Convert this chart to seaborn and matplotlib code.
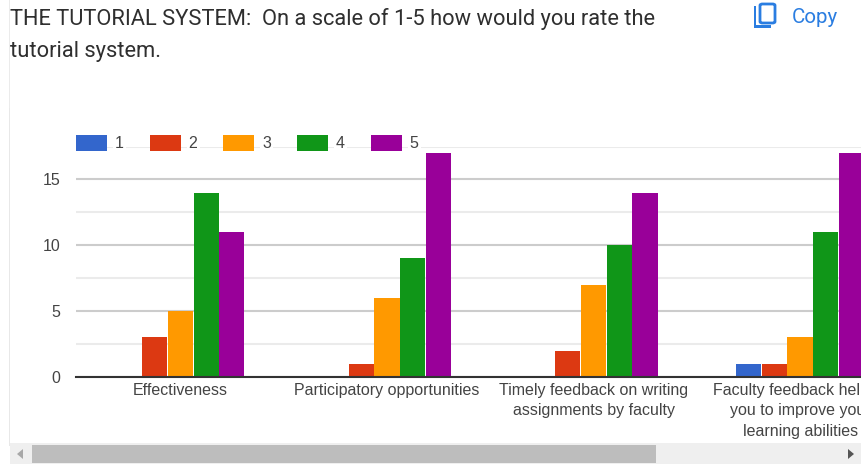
import seaborn as sns
import matplotlib.pyplot as plt
import pandas as pd
from matplotlib.patches import Rectangle, Polygon, FancyBboxPatch
from matplotlib.ticker import MultipleLocator

# Werte
categories = ['Effectiveness', 'Participatory opportunities',
              'Timely feedback on writing\nassignments by faculty',
              'Faculty feedback helped\nyou to improve your\nlearning abilities']
ratings = ['1', '2', '3', '4', '5']
rating_1 = [0, 0, 0, 1]
rating_2 = [3, 1, 2, 1]
rating_3 = [5, 6, 7, 3]
rating_4 = [14, 9, 10, 11]
rating_5 = [11, 17, 14, 17]
colors = ['#3366cc', '#dc3912', '#ff9900', '#109618', '#990099']

df = pd.DataFrame({'category': categories, '1': rating_1, '2': rating_2, '3': rating_3,
                   '4': rating_4, '5': rating_5})
df = df.melt(id_vars='category', var_name='rating', value_name='count')

W, H = 861, 466
sns.set_style('white')
plt.rcParams['font.family'] = ['Liberation Sans', 'DejaVu Sans']

fig = plt.figure(figsize=(W / 100, H / 100), dpi=100)
ax = fig.add_axes([76 / W, (H - 377) / H, (W - 76) / W, (377 - 146.5) / H])

sns.barplot(data=df, x='category', y='count', hue='rating', hue_order=ratings,
            order=categories, palette=colors, width=0.622, gap=0.02, saturation=1,
            linewidth=0, ax=ax)

ax.set_xlim(-0.506, 3.295)
ax.set_ylim(0, 17.5)
ax.set_xlabel('')
ax.set_ylabel('')
ax.yaxis.set_major_locator(MultipleLocator(5))
ax.yaxis.set_minor_locator(MultipleLocator(2.5))
ax.grid(True, which='major', axis='y', color='#cccccc', linewidth=1.5)
ax.grid(True, which='minor', axis='y', color='#ebebeb', linewidth=1.5)
ax.set_axisbelow(True)
for name in ['top', 'left', 'right']:
    ax.spines[name].set_visible(False)
ax.spines['bottom'].set_color('#333333')
ax.spines['bottom'].set_linewidth(1.5)
ax.tick_params(axis='x', which='both', length=0, pad=4, labelsize=11.5, labelcolor='#444444')
ax.tick_params(axis='y', which='both', length=0, pad=11.5, labelsize=11.5, labelcolor='#444444')
for lab in ax.get_xticklabels():
    lab.set_linespacing(1.48)
    lab.set_verticalalignment('top')

# Legende oben, Gitterlinie laeuft dahinter
leg = ax.legend(loc='center left', bbox_to_anchor=(0, 1.015), ncol=5, frameon=False,
                bbox_transform=ax.transAxes, borderaxespad=0, borderpad=0,
                handlelength=1.94, handleheight=1.15, handletextpad=0.5,
                columnspacing=1.62, fontsize=11.5, labelcolor='#444444')
for t in leg.get_texts():
    t.set_bbox(dict(facecolor='white', edgecolor='none', pad=1.5))

# Titel und Copy-Knopf
title_kw = dict(family='Roboto', fontsize=15.75, color='#2f2f2f', va='baseline', ha='left')
fig.text(9.5 / W, (H - 25) / H, 'THE TUTORIAL SYSTEM:  On a scale of 1-5 how would you rate the', **title_kw)
fig.text(9.5 / W, (H - 57) / H, 'tutorial system.', **title_kw)
fig.text(792 / W, (H - 23) / H, 'Copy', family='Roboto', fontsize=14.8, color='#2a7de1',
         va='baseline', ha='left')


def px_rect(x, y, w, h, **kw):
    fig.add_artist(Rectangle((x / W, (H - y - h) / H), w / W, h / H,
                             transform=fig.transFigure, **kw))


# Icon
px_rect(753.5, 6, 2.5, 22, facecolor='#2a7de1', edgecolor='none')
px_rect(753.5, 25.5, 17, 2.5, facecolor='#2a7de1', edgecolor='none')
fig.add_artist(FancyBboxPatch((760 / W, (H - 23) / H), 15 / W, 19 / H, boxstyle='round,pad=0,rounding_size=0.003',
                              transform=fig.transFigure, facecolor='none', edgecolor='#2a7de1', linewidth=2))

# Rahmen links und Scrollbalken
px_rect(8.5, 0, 1.5, 108, facecolor='#ebebeb', edgecolor='none')
px_rect(8.5, 108, 1.2, 338, facecolor='#e8e8e8', edgecolor='none')
px_rect(10, 443, 851, 21, facecolor='#efefef', edgecolor='none')
px_rect(32, 445, 624, 18, facecolor='#bdbdbd', edgecolor='none')
fig.add_artist(Polygon([(23 / W, (H - 449) / H), (23 / W, (H - 459) / H), (17 / W, (H - 454) / H)],
                       transform=fig.transFigure, facecolor='#a8a8a8', edgecolor='none'))
fig.add_artist(Polygon([(848 / W, (H - 449) / H), (848 / W, (H - 459) / H), (854 / W, (H - 454) / H)],
                       transform=fig.transFigure, facecolor='#555555', edgecolor='none'))

fig.savefig('out.png', dpi=100)
